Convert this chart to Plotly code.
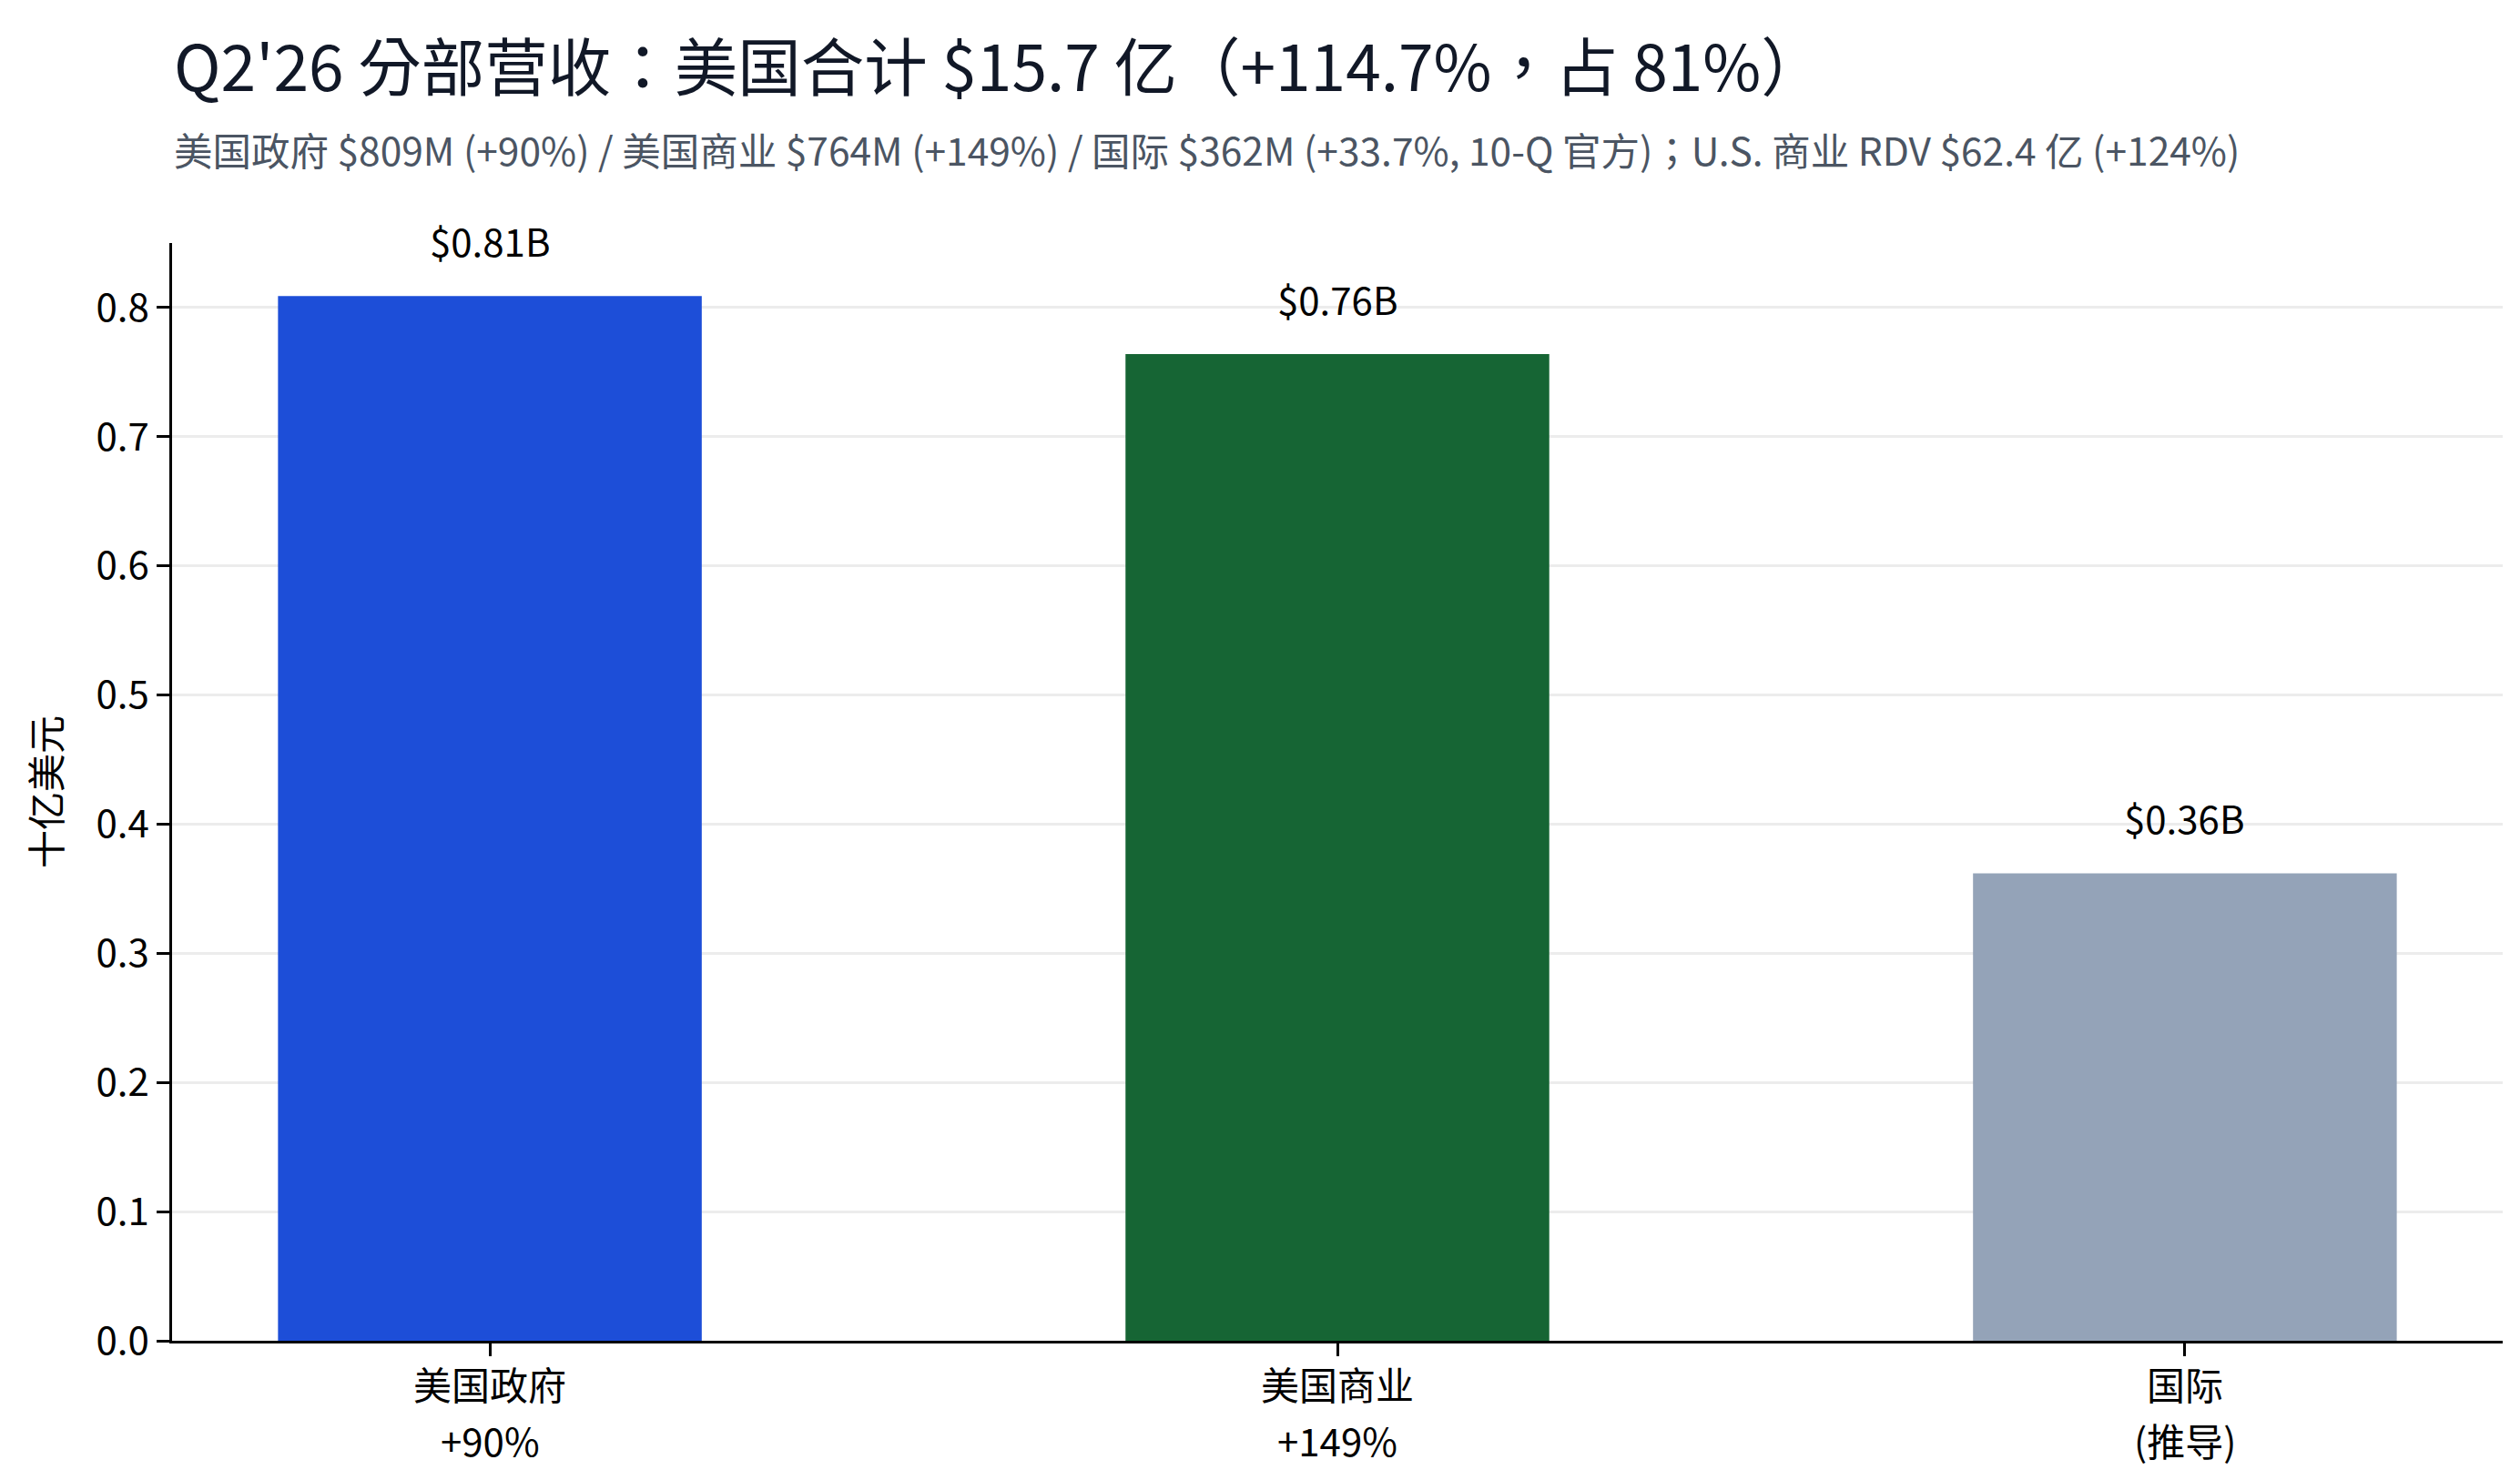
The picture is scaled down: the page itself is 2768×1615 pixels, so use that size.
import plotly.graph_objects as go

category_names = ["美国政府", "美国商业", "国际"]
category_notes = ["+90%", "+149%", "(推导)"]
values = [0.809, 0.764, 0.362]
bar_labels = ["$0.81B", "$0.76B", "$0.36B"]
colors = ["#1D4ED8", "#166534", "#94A3B8"]
y_ticks = [0.0, 0.1, 0.2, 0.3, 0.4, 0.5, 0.6, 0.7, 0.8]

title_text = "Q2'26 分部营收：美国合计 $15.7 亿（+114.7%，占 81%）"
subtitle_text = "美国政府 $809M (+90%) / 美国商业 $764M (+149%) / 国际 $362M (+33.7%, 10-Q 官方)；U.S. 商业 RDV $62.4 亿 (+124%)"

FONT = "Noto Sans CJK SC"
FONT_T = "Noto Sans CJK TC"
W, H = 2768, 1615

x_idx = list(range(len(category_names)))

fig = go.Figure()
fig.add_trace(go.Bar(
    x=x_idx, y=values, marker=dict(color=colors, line=dict(width=0)),
    width=0.5, hoverinfo="skip", showlegend=False,
))

for xi, v, lab in zip(x_idx, values, bar_labels):
    fig.add_annotation(x=xi, y=v, text=lab, showarrow=False, xanchor="center",
                       yanchor="middle", yshift=62,
                       font=dict(family=FONT, size=42, color="#000000"))

# two-line category labels under each tick
for xi, name, note in zip(x_idx, category_names, category_notes):
    fig.add_annotation(x=xi, y=0, text=name, showarrow=False, xanchor="center",
                       yanchor="middle", yshift=-46,
                       font=dict(family=FONT, size=42, color="#000000"))
    fig.add_annotation(x=xi, y=0, text=note, showarrow=False, xanchor="center",
                       yanchor="middle", yshift=-108,
                       font=dict(family=FONT, size=42, color="#000000"))

fig.add_annotation(xref="paper", yref="paper", x=0.0, y=1.0, xanchor="left", yanchor="middle",
                   text=title_text, showarrow=False, yshift=198,
                   font=dict(family=FONT_T, size=69.5, color="#111827"))
fig.add_annotation(xref="paper", yref="paper", x=0.0, y=1.0, xanchor="left", yanchor="middle",
                   text=subtitle_text, showarrow=False, yshift=104,
                   font=dict(family=FONT_T, size=42.5, color="#4B5563"))

fig.update_layout(
    width=W, height=H,
    margin=dict(l=181, r=27, t=259, b=150, pad=0),
    paper_bgcolor="white", plot_bgcolor="white",
    font=dict(family=FONT, size=42, color="#000000"),
    bargap=0.5,
)
fig.update_xaxes(
    range=[-0.375, 2.375], tickmode="array", tickvals=x_idx, showticklabels=False,
    showline=True, linecolor="#000000", linewidth=2.5, ticks="outside", ticklen=14,
    tickwidth=2.5, tickcolor="#000000", showgrid=False, zeroline=False,
)
fig.update_yaxes(
    range=[0, 0.85], tickmode="array", tickvals=y_ticks,
    ticktext=[f"{t:.1f}" for t in y_ticks],
    showline=True, linecolor="#000000", linewidth=2.5, ticks="outside", ticklen=14,
    tickwidth=2.5, tickcolor="#000000", showgrid=True, gridcolor="rgba(200,200,200,0.35)",
    gridwidth=3, zeroline=False, layer="above traces",
    title=dict(text="十亿美元", font=dict(family=FONT, size=42, color="#000000"), standoff=25),
    tickfont=dict(family=FONT, size=42, color="#000000"),
)

fig.write_html("out.html")
